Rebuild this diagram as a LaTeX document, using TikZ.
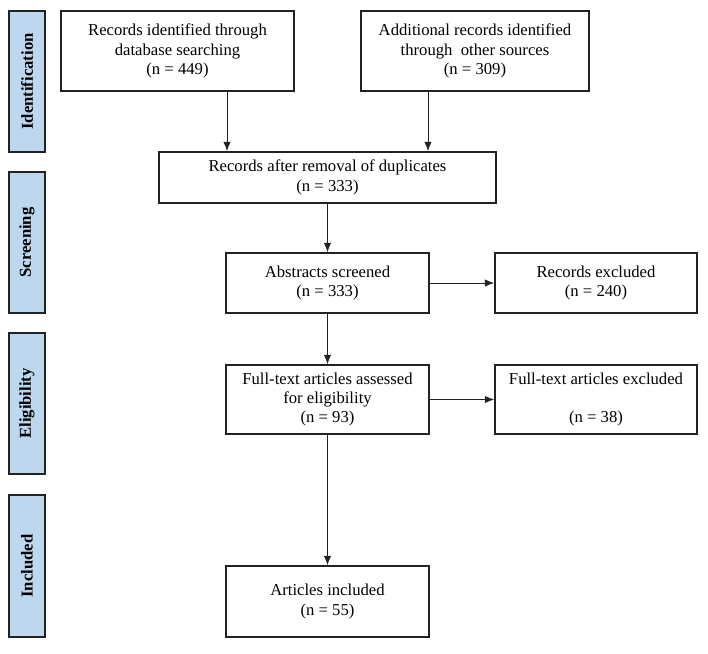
\documentclass[tikz,border=0pt]{standalone}
\usepackage{fontspec}
\setmainfont{Liberation Serif}
\usetikzlibrary{arrows.meta}
\definecolor{phase}{HTML}{BDD7EE}
\definecolor{frame}{HTML}{222222}
\tikzset{
	box/.style={draw=frame,line width=1.1pt,fill=white,align=center,inner sep=2pt,font=\fontsize{12.5}{14.5}\selectfont},
	phasebox/.style={draw=frame,line width=1.1pt,fill=phase,minimum width=27pt,rotate=90,font=\bfseries\fontsize{12.5}{13}\selectfont},
	arr/.style={draw=frame,line width=0.7pt,-{Latex[length=7pt,width=5.5pt]}}
}
\begin{document}
\begin{tikzpicture}[x=0.75pt,y=-0.75pt]
			\useasboundingbox (0,0) rectangle (708,654);
			% phases
			\node[phasebox,minimum width=105.75pt,minimum height=27pt] (ph1) at (27,81.5) {Identification};
			\node[phasebox,minimum width=105.75pt,minimum height=27pt] (ph2) at (27,242.5) {Screening};
			\node[phasebox,minimum width=105.75pt,minimum height=27pt] (ph3) at (27,403.5) {Eligibility};
			\node[phasebox,minimum width=106.5pt,minimum height=27pt] (ph4) at (27,566) {Included};
			% boxes
			\node[box,minimum width=174.75pt,minimum height=60pt] (db) at (177.5,51)
			{Records identified through\\database searching\\(n = 449)};
			\node[box,minimum width=171pt,minimum height=60pt] (other) at (475,51)
			{Additional records identified\\through\ \ other sources\\(n = 309)};
			\node[box,minimum width=252.75pt,minimum height=38.25pt] (dup) at (327.5,177.5)
			{Records after removal of duplicates\\(n = 333)};
			\node[box,minimum width=152.25pt,minimum height=45pt] (abs) at (327.5,283)
			{Abstracts screened\\(n = 333)};
			\node[box,minimum width=151.5pt,minimum height=45pt] (exa) at (596,283)
			{Records excluded\\(n = 240)};
			\node[box,minimum width=152.25pt,minimum height=51.75pt] (full) at (327.5,399.5)
			{Full-text articles assessed\\for eligibility\\(n = 93)};
			\node[box,minimum width=151.5pt,minimum height=51.75pt] (exf) at (596,399.5)
			{Full-text articles excluded\\[14.5pt](n = 38)};
			\node[box,minimum width=152.25pt,minimum height=53.25pt] (inc) at (327.5,601.5)
			{Articles included\\(n = 55)};
			% arrows
			\coordinate (a1) at (227,0);
			\coordinate (a2) at (428,0);
			\draw[arr] (db.south -| a1) -- (dup.north -| a1);
			\draw[arr] (other.south -| a2) -- (dup.north -| a2);
			\draw[arr] (dup) -- (abs);
			\draw[arr] (abs) -- (exa);
			\draw[arr] (abs) -- (full);
			\draw[arr] (full) -- (exf);
			\draw[arr] (full) -- (inc);
	\end{tikzpicture}
\end{document}
